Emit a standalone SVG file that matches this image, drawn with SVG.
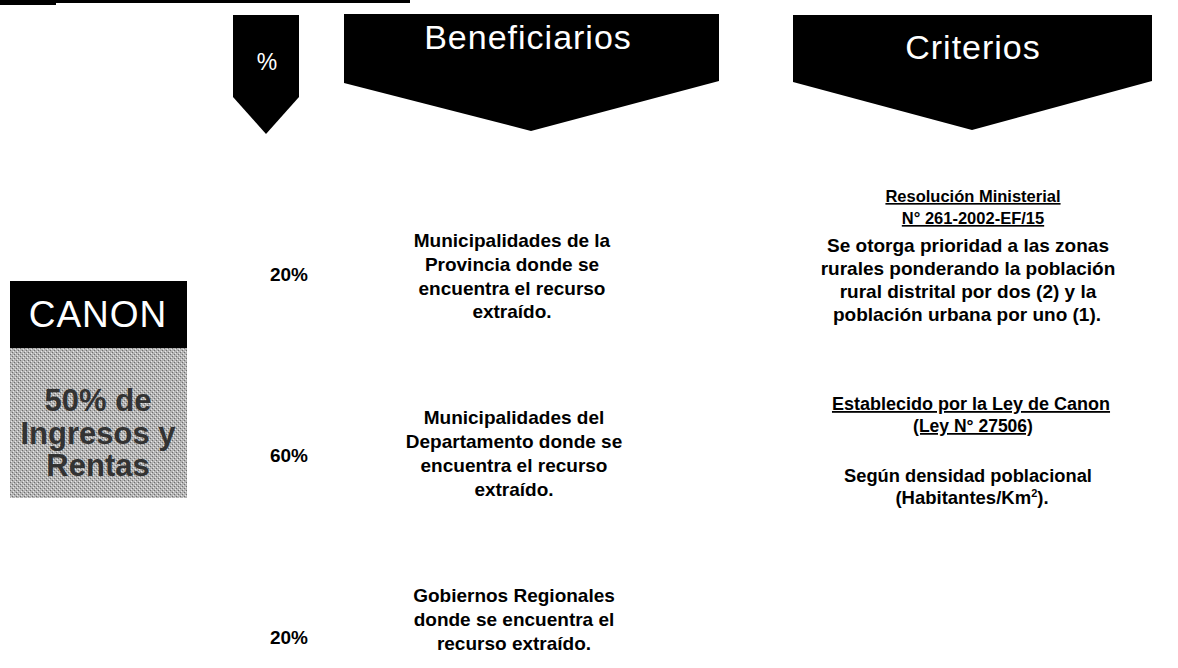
<svg xmlns="http://www.w3.org/2000/svg" width="1178" height="668" viewBox="0 0 1178 668">
<defs>
<style>
.hdr{fill:#000}
.ht{fill:#fff;font-family:"Liberation Sans",Arial,sans-serif;font-size:34px;letter-spacing:1px;text-anchor:middle}
.b{fill:#000;font-family:"Liberation Sans",Arial,sans-serif;font-weight:bold;font-size:19px;text-anchor:middle}
.s{font-size:16.5px}
.pct{fill:#000;font-family:"Liberation Sans",Arial,sans-serif;font-weight:bold;font-size:19px;text-anchor:middle}
.u{text-decoration:underline}
.gt{fill:#333;font-family:"Liberation Sans",Arial,sans-serif;font-weight:bold;font-size:31px;text-anchor:middle}
</style>
<pattern id="dither" width="4" height="4" patternUnits="userSpaceOnUse">
<rect width="4" height="4" fill="#b4b4b4"/>
<rect x="0" y="0" width="1" height="1" fill="#6e6e6e"/>
<rect x="2" y="2" width="1" height="1" fill="#6e6e6e"/>
<rect x="1" y="3" width="1" height="1" fill="#e8e8e8"/>
<rect x="3" y="1" width="1" height="1" fill="#e8e8e8"/>
</pattern>
</defs>
<rect width="1178" height="668" fill="#fff"/>
<g id="topline">
<rect x="0" y="0" width="410" height="3" fill="#000"/>
<rect x="0" y="0" width="56" height="5" fill="#000"/>
</g>
<g id="connectors"></g>
<g id="hdr-pct">
<polygon class="hdr" points="233,15 299,15 299,97 266,134 233,97"/>
<text class="ht" x="267" y="70" style="font-size:23px;letter-spacing:0">%</text>
</g>
<g id="hdr-benef">
<polygon class="hdr" points="344,14 719,14 719,81 531,131 344,83"/>
<text class="ht" x="528" y="49">Beneficiarios</text>
</g>
<g id="hdr-crit">
<polygon class="hdr" points="793,15 1152,15 1152,81 972,130 793,82"/>
<text class="ht" x="973" y="59">Criterios</text>
</g>
<g id="canon">
<rect x="10" y="281" width="177" height="67" fill="#000"/>
<text class="ht" x="98" y="327" style="font-size:37px">CANON</text>
</g>
<g id="ingresos">
<rect x="10" y="348" width="177" height="150" fill="url(#dither)"/>
<text class="gt" x="98" y="411">50% de</text>
<text class="gt" x="98" y="444">Ingresos y</text>
<text class="gt" x="98" y="476">Rentas</text>
</g>
<g id="pct1"><text class="pct" x="289" y="281">20%</text></g>
<g id="pct2"><text class="pct" x="289" y="462">60%</text></g>
<g id="pct3"><text class="pct" x="289" y="644">20%</text></g>
<g id="benef1">
<text class="b" x="512" y="247">Municipalidades de la</text>
<text class="b" x="512" y="271">Provincia donde se</text>
<text class="b" x="512" y="295">encuentra el recurso</text>
<text class="b" x="512" y="318">extraído.</text>
</g>
<g id="benef2">
<text class="b" x="514" y="424">Municipalidades del</text>
<text class="b" x="514" y="448">Departamento donde se</text>
<text class="b" x="514" y="472">encuentra el recurso</text>
<text class="b" x="514" y="496">extraído.</text>
</g>
<g id="benef3">
<text class="b" x="514" y="602">Gobiernos Regionales</text>
<text class="b" x="514" y="626">donde se encuentra el</text>
<text class="b" x="514" y="650">recurso extraído.</text>
</g>
<g id="crit1">
<text class="b u s" x="973" y="202">Resolución Ministerial</text>
<text class="b u s" x="973" y="224">N° 261-2002-EF/15</text>
<text class="b" x="968" y="252">Se otorga prioridad a las zonas</text>
<text class="b" x="968" y="275">rurales ponderando la población</text>
<text class="b" x="968" y="298">rural distrital por dos (2) y la</text>
<text class="b" x="967" y="321">población urbana por uno (1).</text>
</g>
<g id="crit2">
<text class="b u" x="971" y="410" style="font-size:18px">Establecido por la Ley de Canon</text>
<text class="b u" x="973" y="432" style="font-size:17.5px">(Ley N° 27506)</text>
<text class="b" x="968" y="482" style="font-size:18.3px">Según densidad poblacional</text>
<text class="b" x="972" y="504" style="font-size:18.5px">(Habitantes/Km<tspan style="font-size:11px" dy="-7">2</tspan><tspan dy="7">).</tspan></text>
</g>
</svg>
